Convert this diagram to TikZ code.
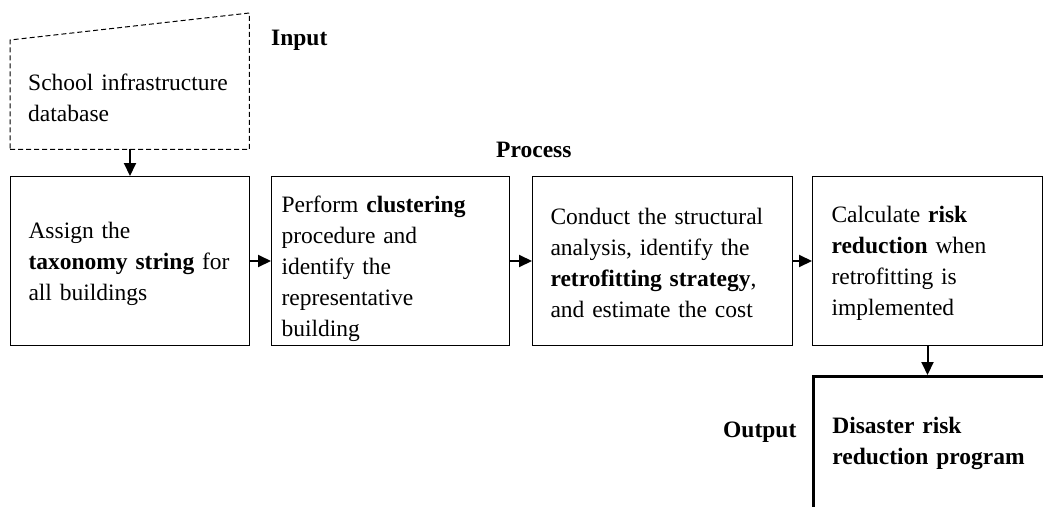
\documentclass[tikz,border=0pt]{standalone}
\usepackage{fontspec}
\setmainfont{Liberation Serif}
\usetikzlibrary{arrows.meta}
\newcommand\toppad[1]{\rule{0pt}{#1}}
\begin{document}
\begin{tikzpicture}[x=1pt,y=-1pt,
  txt/.style={font=\fontsize{23.5}{31}\selectfont, align=left},
  procbox/.style={txt, draw, line width=1pt, minimum height=169pt, inner ysep=0pt, anchor=north west},
  lbl/.style={font=\fontsize{23.5}{31}\selectfont\bfseries, anchor=base west, inner sep=0pt},
  arr/.style={line width=2pt, -{Triangle[length=13pt,width=12pt]}}]
\useasboundingbox (0,0) rectangle (1043,506);
\clip (0,0) rectangle (1043,506);
% input
\node[txt, anchor=north west, minimum width=239pt, minimum height=109pt, text width=203pt, inner xsep=18pt, inner ysep=0pt] (in) at (10,40)
  {\toppad{22pt}School infrastructure\\database};
\draw[line width=1pt, dash pattern=on 5pt off 3pt] (in.south west) -- (in.south east) -- ([yshift=27pt]in.north east) -- (in.north west) -- cycle;
% process boxes
\node[procbox, minimum width=239pt, text width=203pt, inner xsep=18pt] (b1) at (10,176)
  {\toppad{22pt}Assign the\\\textbf{taxonomy string} for\\all buildings};
\node[procbox, minimum width=238pt, text width=218pt, inner xsep=10pt] (b2) at (271,176)
  {\toppad{32pt}Perform \textbf{clustering}\\procedure and\\identify the\\representative\\building};
\node[procbox, minimum width=260pt, text width=224pt, inner xsep=18pt] (b3) at (532,176)
  {\toppad{20pt}Conduct the structural\\analysis, identify the\\\textbf{retrofitting strategy},\\and estimate the cost};
\node[procbox, minimum width=230pt, text width=192pt, inner xsep=19pt] (b4) at (812,176)
  {\toppad{20pt}Calculate \textbf{risk}\\\textbf{reduction} when\\retrofitting is\\implemented};
% output
\node[txt, font=\fontsize{23.5}{31}\selectfont\bfseries, draw, line width=2.6pt, anchor=north west, minimum width=260pt, minimum height=135pt, text width=222pt, inner xsep=19pt, inner ysep=0pt] (out) at (812,375)
  {Disaster risk\\reduction program};
% labels
\node[lbl] (linput) at (271,45) {Input};
\node[lbl] (lprocess) at (496,157) {Process};
\node[lbl] (loutput) at (723,437) {Output};
% connectors
\coordinate (inb) at (in.south -| b1.north);
\draw[arr] (inb) -- (b1.north);
\draw[arr] (b1.east) -- (b2.west);
\draw[arr] (b2.east) -- (b3.west);
\draw[arr] (b3.east) -- (b4.west);
\draw[arr] (b4.south) -- (b4.south |- out.north);
\end{tikzpicture}
\end{document}
